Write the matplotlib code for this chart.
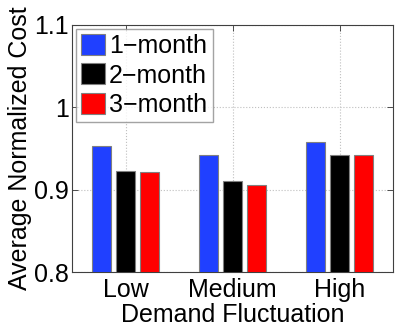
import matplotlib
matplotlib.use("Agg")
import matplotlib.pyplot as plt
import numpy as np

plt.rcParams['font.family'] = ['Liberation Sans', 'DejaVu Sans']

categories = ["Low", "Medium", "High"]
series_names = ["1\u2212month", "2\u2212month", "3\u2212month"]
one_month = [0.953, 0.942, 0.958]
two_month = [0.923, 0.911, 0.942]
three_month = [0.921, 0.906, 0.942]
colors = ["#2040FF", "#000000", "#FF0000"]
yticks = [0.8, 0.9, 1.0, 1.1]
ytick_labels = ["0.8", "0.9", "1", "1.1"]

fig = plt.figure(figsize=(3.99, 3.27), dpi=100)
ax = fig.add_axes([72/399, 1-272/327, 321/399, 247/327])

x = np.arange(1, len(categories) + 1)
width = 0.173
offset = 0.223
for i, (vals, name, c) in enumerate(zip([one_month, two_month, three_month], series_names, colors)):
    ax.bar(x + (i - 1) * offset, vals, width, color=c, edgecolor='0.5', linewidth=0.8,
           label=name, zorder=3)

ax.set_xlim(0.5, 3.5)
ax.set_ylim(0.8, 1.1)
ax.set_xticks(x)
ax.set_xticklabels(categories)
ax.set_yticks(yticks)
ax.set_yticklabels(ytick_labels)
ax.tick_params(direction='in', length=4, width=0.6, top=True, right=True,
               labelsize=18, colors='0.2', labelcolor='black')
ax.tick_params(axis='x', pad=4)
ax.tick_params(axis='y', pad=2)
ax.grid(True, linestyle=':', color='0.75', linewidth=0.8, zorder=0)
for s in ax.spines.values():
    s.set_color('0.25')
    s.set_linewidth(0.8)

ax.set_xlabel("Demand Fluctuation", fontsize=18, labelpad=1)
ax.set_ylabel("Average Normalized Cost", fontsize=18, labelpad=2)

leg = ax.legend(loc='upper left', fontsize=18, frameon=True, fancybox=False,
                borderaxespad=0.15, borderpad=0.22, handlelength=0.96, handleheight=0.92,
                handletextpad=0.16, labelspacing=0.2)
leg.get_frame().set_edgecolor('0.55')
leg.get_frame().set_linewidth(1.0)

fig.savefig("out.png", dpi=100)
